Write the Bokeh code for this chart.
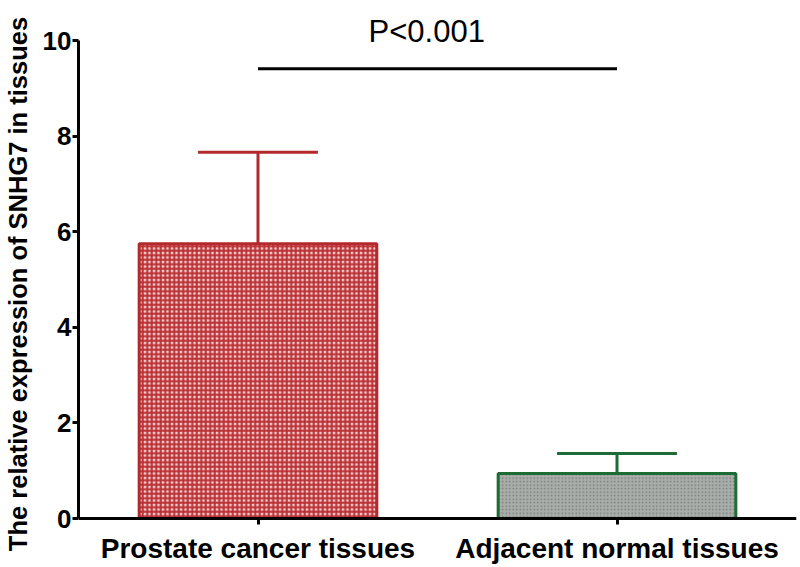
from bokeh.plotting import figure
from bokeh.models import ColumnDataSource, FactorRange, Range1d, FixedTicker
from bokeh.embed import file_html
from bokeh.resources import INLINE
from bokeh.core.properties import value

# ---- data ----
groups = ["Prostate cancer tissues", "Adjacent normal tissues"]
means = [5.75, 0.94]
sds = [1.91, 0.42]
y_ticks = [0, 2, 4, 6, 8, 10]
y_label = "The relative expression of SNHG7 in tissues"
p_text = "P<0.001"
p_line_level = 9.41
p_text_level = 10.19

# ---- styles ----
edge_colors = ["#b3292c", "#1d6b35"]
fill_colors = ["#f4d0d0", "#a9aeab"]
hatch_colors = ["#bb2f33", "#767d78"]
hatch_patterns = ["cross", "dot"]
hatch_scales = [4.5, 3.5]
hatch_weights = [2.0, 1.0]
BAR_W = 0.662
CAP_HALF = 0.167
FONT = "Liberation Sans"

p = figure(
    width=800, height=567,
    x_range=FactorRange(factors=groups, range_padding=0),
    y_range=Range1d(-1.025, 10.837),
    output_backend="svg", toolbar_location=None,
    min_border_left=77, min_border_right=4, min_border_top=0, min_border_bottom=0,
)
p.outline_line_color = None
p.xgrid.grid_line_color = None
p.ygrid.grid_line_color = None
p.background_fill_color = "white"

for i, g in enumerate(groups):
    src = ColumnDataSource(dict(x=[g], top=[means[i]]))
    p.vbar(x="x", top="top", width=BAR_W, bottom=0, source=src,
           fill_color=fill_colors[i], line_color=edge_colors[i], line_width=3,
           hatch_pattern=hatch_patterns[i], hatch_color=hatch_colors[i],
           hatch_scale=hatch_scales[i], hatch_weight=hatch_weights[i])
    err = ColumnDataSource(dict(
        x0=[g, (g, -CAP_HALF)], x1=[g, (g, CAP_HALF)],
        y0=[means[i], means[i] + sds[i]], y1=[means[i] + sds[i], means[i] + sds[i]],
    ))
    p.segment(x0="x0", y0="y0", x1="x1", y1="y1", source=err,
              line_color=edge_colors[i], line_width=3, line_cap="butt")

sig = ColumnDataSource(dict(x0=[groups[0]], x1=[groups[1]], y=[p_line_level]))
p.segment(x0="x0", y0="y", x1="x1", y1="y", source=sig, line_color="black", line_width=3)
txt = ColumnDataSource(dict(x=[(groups[0], 0.47)], y=[p_text_level], t=[p_text]))
p.text(x="x", y="y", text="t", source=txt, text_align="center", text_baseline="middle",
       text_font=value(FONT), text_font_size="31px", text_color="black")

ya = p.yaxis[0]
ya.bounds = (0, 10)
ya.ticker = FixedTicker(ticks=y_ticks)
ya.axis_line_width = 3
ya.major_tick_line_width = 3
ya.major_tick_out = 6
ya.major_tick_in = 0
ya.minor_tick_line_color = None
ya.major_label_text_font = FONT
ya.major_label_text_font_style = "bold"
ya.major_label_text_font_size = "26px"
ya.major_label_text_color = "black"
ya.major_label_standoff = 1
ya.axis_label = y_label
ya.axis_label_text_font = FONT
ya.axis_label_text_font_style = "bold"
ya.axis_label_text_font_size = "25.5px"
ya.axis_label_text_color = "black"
ya.axis_label_standoff = 8

xa = p.xaxis[0]
xa.fixed_location = 0
xa.axis_line_width = 3
xa.major_tick_line_width = 3
xa.major_tick_out = 6
xa.major_tick_in = 0
xa.minor_tick_line_color = None
xa.major_label_text_font = FONT
xa.major_label_text_font_style = "bold"
xa.major_label_text_font_size = "28px"
xa.major_label_text_color = "black"
xa.major_label_standoff = 8

open("out.html", "w").write(file_html(p, INLINE))
